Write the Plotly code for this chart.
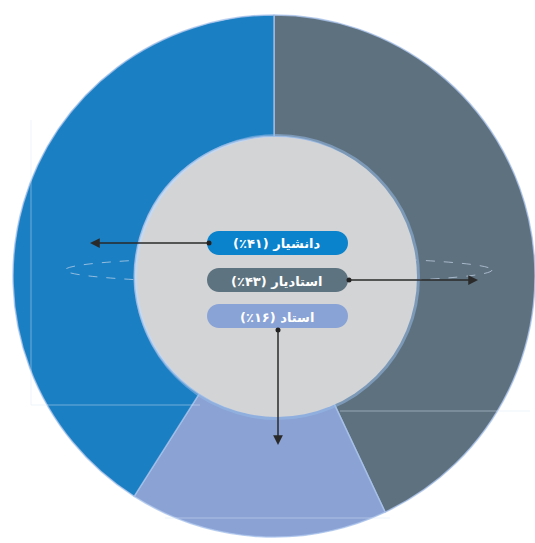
import plotly.graph_objects as go

W, H = 535, 543

# ---- data ----
categories = ["استادیار", "استاد", "دانشیار"]
percents = [43, 16, 41]
slice_colors = ["#5e717f", "#8aa2d4", "#1a7fc3"]
box_colors = ["#5e7380", "#8aa3d6", "#0a82cc"]

def fa_digits(n):
    return str(n).translate(str.maketrans("0123456789", "۰۱۲۳۴۵۶۷۸۹"))

def px(x):
    return x / W

def py(y):
    return 1 - y / H

fig = go.Figure()

fig.add_trace(go.Pie(
    labels=categories,
    values=percents,
    sort=False,
    direction="clockwise",
    rotation=0,
    hole=0.535,
    textinfo="none",
    marker=dict(colors=slice_colors,
                line=dict(color="rgba(170,195,235,0.8)", width=1.5)),
    domain=dict(x=[13 / W, 1], y=[6 / H, 528 / H]),
    showlegend=False,
))

shapes = []
# faint guide lines
line_faint = dict(color="rgba(220,230,245,0.45)", width=1)
shapes.append(dict(type="line", xref="paper", yref="paper", x0=px(31), x1=px(31),
                   y0=py(120), y1=py(405), line=line_faint, layer="above"))
shapes.append(dict(type="line", xref="paper", yref="paper", x0=px(31), x1=px(200),
                   y0=py(405), y1=py(405), line=line_faint, layer="above"))
shapes.append(dict(type="line", xref="paper", yref="paper", x0=px(340), x1=px(530),
                   y0=py(411), y1=py(411), line=line_faint, layer="above"))
shapes.append(dict(type="line", xref="paper", yref="paper", x0=px(165), x1=px(390),
                   y0=py(518), y1=py(518), line=line_faint, layer="above"))
# dashed ellipse
shapes.append(dict(type="circle", xref="paper", yref="paper", x0=px(65), x1=px(492),
                   y0=py(283), y1=py(257),
                   line=dict(color="rgba(200,215,235,0.7)", width=1, dash="dash"),
                   layer="above"))
# inner disc bevel + disc
cx, cy, r = 277, 277, 140
shapes.append(dict(type="circle", xref="paper", yref="paper",
                   x0=px(cx - r - 3), x1=px(cx + r + 3), y0=py(cy + r + 3), y1=py(cy - r - 3),
                   fillcolor="rgba(150,185,230,0.55)", line=dict(width=0), layer="above"))
shapes.append(dict(type="circle", xref="paper", yref="paper",
                   x0=px(cx - r), x1=px(cx + r), y0=py(cy + r), y1=py(cy - r),
                   fillcolor="#d3d4d6", line=dict(width=0), layer="above"))

# rounded label boxes
box_left, box_right = 207, 348
box_tops = {"دانشیار": 231, "استادیار": 268, "استاد": 304}
box_h = 24
k = 0.5523

def pill(x0, x1, y0, y1):
    rr = (y1 - y0) / 2
    ym = (y0 + y1) / 2
    pts = []
    pts.append(f"M {px(x0 + rr)},{py(y0)}")
    pts.append(f"L {px(x1 - rr)},{py(y0)}")
    pts.append(f"C {px(x1 - rr + k * rr)},{py(y0)} {px(x1)},{py(ym - k * rr)} {px(x1)},{py(ym)}")
    pts.append(f"C {px(x1)},{py(ym + k * rr)} {px(x1 - rr + k * rr)},{py(y1)} {px(x1 - rr)},{py(y1)}")
    pts.append(f"L {px(x0 + rr)},{py(y1)}")
    pts.append(f"C {px(x0 + rr - k * rr)},{py(y1)} {px(x0)},{py(ym + k * rr)} {px(x0)},{py(ym)}")
    pts.append(f"C {px(x0)},{py(ym - k * rr)} {px(x0 + rr - k * rr)},{py(y0)} {px(x0 + rr)},{py(y0)}")
    pts.append("Z")
    return " ".join(pts)

annotations = []
for cat, pct, col in zip(categories, percents, box_colors):
    top = box_tops[cat]
    shapes.append(dict(type="path", xref="paper", yref="paper",
                       path=pill(box_left, box_right, top, top + box_h),
                       fillcolor=col, line=dict(width=0), layer="above"))
    annotations.append(dict(
        x=px((box_left + box_right) / 2 - 1), y=py(top + box_h / 2 + 1),
        xref="paper", yref="paper", showarrow=False,
        text=f"{cat} ({fa_digits(pct)}٪)",
        font=dict(family="DejaVu Sans", size=13, color="white", weight="bold"),
        xanchor="center", yanchor="middle",
    ))

# arrows: (tail, tip) per category
arrows = {
    "دانشیار": ((209, 243), (90, 243)),
    "استادیار": ((349, 280), (478, 280)),
    "استاد": ((278, 330), (278, 445)),
}
for cat in categories:
    (tx, ty), (hx, hy) = arrows[cat]
    annotations.append(dict(
        x=px(hx), y=py(hy), xref="paper", yref="paper",
        ax=tx - hx, ay=ty - hy, text="", showarrow=True,
        arrowhead=2, arrowsize=1.3, arrowwidth=1.5, arrowcolor="#2a2a2a",
        standoff=0, startstandoff=0,
    ))
    shapes.append(dict(type="circle", xref="paper", yref="paper",
                       x0=px(tx - 2.5), x1=px(tx + 2.5), y0=py(ty + 2.5), y1=py(ty - 2.5),
                       fillcolor="#222222", line=dict(width=0), layer="above"))

fig.update_layout(
    width=W, height=H,
    margin=dict(l=0, r=0, t=0, b=0),
    paper_bgcolor="white", plot_bgcolor="white",
    shapes=shapes, annotations=annotations,
)

fig.write_html("out.html", config={"displayModeBar": False},
               post_script="document.body.style.margin='0';")
